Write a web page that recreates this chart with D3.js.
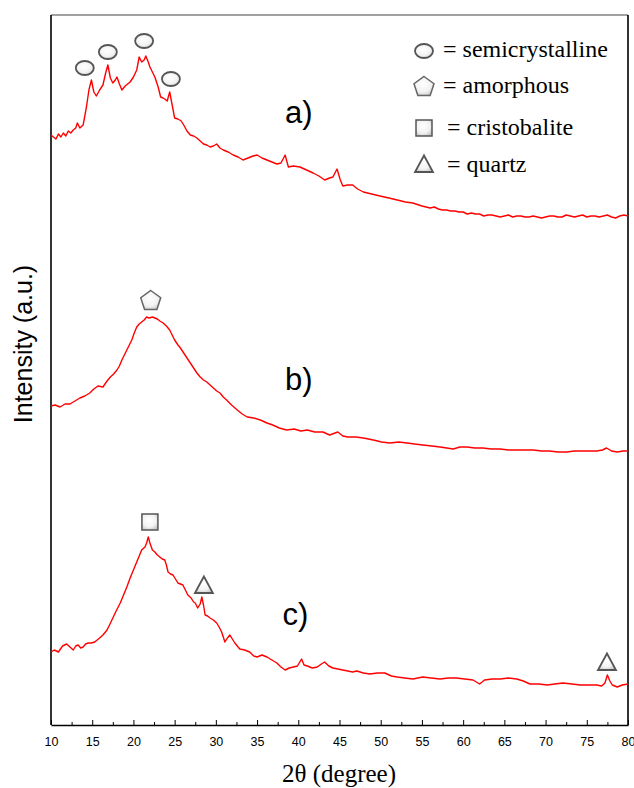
<!DOCTYPE html>
<html><head><meta charset="utf-8">
<script src="https://cdn.jsdelivr.net/npm/d3@7"></script>
<style>body{margin:0;background:#fff}svg{display:block}</style>
</head><body>
<svg id="chart" width="634" height="788"></svg>
<script>
// ---- data (2θ in degrees, intensity in a.u., curves stacked) ----
const xA = [10.0,10.3,10.6,10.9,11.2,11.5,11.8,12.1,12.4,12.7,13.0,13.2,13.5,13.9,14.3,14.6,14.9,15.2,15.5,15.9,16.3,16.6,16.9,17.2,17.5,17.8,18.0,18.3,18.6,19.0,19.3,19.6,20.0,20.4,20.7,21.0,21.3,21.5,21.8,22.0,22.3,22.6,23.0,23.3,23.6,23.8,24.1,24.4,24.7,25.0,25.4,25.8,26.1,26.5,26.9,27.3,27.7,28.1,28.5,28.9,29.3,29.7,30.1,30.5,30.9,31.5,32.1,32.7,33.3,33.9,34.5,35.0,35.6,36.2,36.8,37.4,37.9,38.4,38.8,39.4,40.2,41.0,41.8,42.5,43.2,43.8,44.2,44.7,45.1,45.4,46.0,46.6,47.2,47.9,48.9,49.9,51.0,52.0,53.0,53.9,55.0,55.5,56.0,56.5,57.0,57.5,58.0,58.5,59.0,59.5,60.0,60.5,61.0,61.5,62.0,62.5,63.0,63.5,64.0,64.5,65.0,65.5,66.0,66.5,67.0,67.5,68.0,68.5,69.0,69.5,70.0,70.5,71.0,71.5,72.0,72.5,73.0,73.5,74.0,74.5,75.0,75.5,76.0,76.5,77.0,77.5,78.0,78.5,79.0,79.5,80.0];
const yA = [590,588,586,591,588,592,589,594,592,595,597,602,597,600,618,635,645,633,629,635,640,651,660,647,642,645,648,641,635,639,641,643,648,655,668,663,665,669,663,658,653,648,638,628,627,626,624,633,620,607,606,604,600,594,590,589,587,584,581,580,578,579,581,577,575,573,570,568,565,567,569,570,567,565,563,561,562,570,558,559,558,555,552,549,545,547,548,556,545,539,540,540,536,533,531,529,527,525,523,522,519,518,517,518,516,515,515,514,514,513,513,511,512,511,511,509,510,510,509,508,509,510,508,509,509,508,508,509,508,507,508,509,509,508,508,510,509,508,509,510,508,509,509,508,509,510,508,507,509,510,509];

const xB = [10.0,10.5,11.1,11.7,12.3,12.9,13.5,14.1,14.7,15.2,15.7,16.3,16.8,17.2,17.6,18.0,18.3,18.6,18.9,19.2,19.5,19.8,20.1,20.4,20.7,21.0,21.3,21.6,21.9,22.3,22.6,22.9,23.2,23.6,24.0,24.4,24.7,25.0,25.4,25.7,26.1,26.5,26.9,27.3,27.7,28.1,28.5,28.9,29.3,29.7,30.1,30.5,30.9,31.3,31.9,32.6,33.2,33.8,34.6,35.4,36.2,36.9,37.7,38.6,39.5,40.3,41.1,42.0,43.0,43.8,44.8,45.4,46.0,47.0,47.9,48.5,49.1,50.1,51.1,52.2,53.2,54.1,55.1,56.2,57.2,58.0,58.8,59.6,60.5,61.4,62.4,63.4,64.5,65.5,66.5,67.5,68.5,69.5,70.5,71.5,72.6,73.5,74.5,75.3,76.2,76.9,77.4,78.0,78.7,79.4,80.0];
const yB = [319,320,318,321,321,324,327,329,332,336,339,338,344,348,351,355,359,365,370,375,380,385,392,398,401,403,405,408,407,408,407,406,404,402,399,395,390,385,380,377,372,367,362,357,352,348,345,343,340,337,334,332,328,325,320,315,311,308,307,305,302,300,297,295,296,294,295,293,293,290,293,289,288,288,287,286,285,283,282,283,282,281,280,279,278,277,276,278,278,277,277,276,276,275,275,275,275,274,274,273,273,274,274,274,274,275,277,274,273,274,274];

const xC = [10.0,10.4,10.9,11.4,11.9,12.3,12.7,13.0,13.3,13.6,13.9,14.2,14.5,14.9,15.3,15.6,15.9,16.3,16.8,17.1,17.5,17.9,18.4,18.8,19.2,19.6,20.0,20.3,20.6,21.0,21.4,21.6,21.8,22.0,22.3,22.6,22.9,23.2,23.5,23.8,24.0,24.2,24.5,24.8,25.1,25.4,25.7,26.0,26.3,26.6,27.0,27.3,27.5,27.8,28.1,28.3,28.5,28.7,29.0,29.3,29.7,30.1,30.4,30.7,31.1,31.4,31.7,32.0,32.3,32.9,33.5,34.1,34.6,35.0,35.6,36.2,36.8,37.4,37.9,38.4,38.9,39.4,39.9,40.4,40.7,41.1,41.7,42.3,42.8,43.2,43.7,44.2,44.8,45.4,46.0,46.6,47.1,47.9,48.7,49.6,50.5,51.3,52.0,52.9,53.9,54.5,55.1,56.1,57.2,58.2,59.2,60.2,61.2,62.0,62.6,63.5,64.5,65.5,66.5,67.3,68.1,69.2,70.2,71.1,72.1,73.2,74.2,75.2,76.2,76.8,77.2,77.5,77.8,78.1,78.7,79.3,80.0];
const yC = [73,75,73,79,81,78,75,79,80,77,78,81,82,82,83,85,87,90,95,100,107,114,122,130,138,147,155,161,167,175,178,182,188,182,175,173,170,168,166,165,160,153,151,150,146,142,141,140,135,130,127,123,122,117,121,128,120,110,109,107,105,102,98,93,83,87,90,86,82,76,75,73,69,68,70,68,65,62,58,55,57,58,59,66,60,59,57,58,61,63,59,57,56,55,54,53,54,52,51,52,52,49,48,47,46,47,48,47,46,47,47,46,45,41,45,46,46,47,46,44,41,41,40,41,42,41,40,40,40,39,42,50,44,40,38,40,41];

const curveLabels = ["a)", "b)", "c)"];
const curveLabelPos = [[38.4, 602], [38.4, 335], [38.1, 100]];

const xTicks = [10,15,20,25,30,35,40,45,50,55,60,65,70,75,80];
const xMinorTicks = [12.5,17.5,22.5,27.5,32.5,37.5,42.5,47.5,52.5,57.5,62.5,67.5,72.5,77.5];

// phase markers: [2θ, intensity, type]
const markerX = [14.1, 16.9, 21.3, 24.55, 22.1, 22.0, 28.55, 77.45];
const markerY = [657, 673, 684, 646, 425, 203, 140, 63];
const markerType = ["circle","circle","circle","circle","pentagon","square","triangle","triangle"];

const legendTypes = ["circle","pentagon","square","triangle"];
const legendNames = ["= semicrystalline","= amorphous","= cristobalite","= quartz"];

// ---- drawing ----
const svg = d3.select("#chart");
const x = d3.scaleLinear().domain([10, 80]).range([51, 628]);
const y = d3.scaleLinear().domain([0, 710]).range([725, 15]);

const defs = svg.append("defs");
const rg = defs.append("radialGradient").attr("id","gfill").attr("cx","45%").attr("cy","40%").attr("r","65%");
rg.append("stop").attr("offset","0%").attr("stop-color","#ffffff");
rg.append("stop").attr("offset","65%").attr("stop-color","#f2f2f2");
rg.append("stop").attr("offset","100%").attr("stop-color","#c8c8c8");

// frame
svg.append("line").attr("x1",51).attr("x2",628).attr("y1",15).attr("y2",15).attr("stroke","#444").attr("stroke-width",1);
svg.append("line").attr("x1",51).attr("x2",51).attr("y1",15).attr("y2",725).attr("stroke","#000").attr("stroke-width",1.6);
svg.append("line").attr("x1",628).attr("x2",628).attr("y1",15).attr("y2",725).attr("stroke","#000").attr("stroke-width",1.6);

// bottom axis
const gx = svg.append("g").attr("transform","translate(0,725)")
  .call(d3.axisBottom(x).tickValues(xTicks).tickFormat(d3.format("d")).tickSizeInner(-5).tickSizeOuter(0).tickPadding(12));
gx.select(".domain").attr("stroke","#000").attr("stroke-width",1.6);
gx.selectAll(".tick line").attr("stroke","#000").attr("stroke-width",1);
gx.selectAll("text").attr("font-family","'Liberation Sans Narrow','Arial Narrow','Liberation Sans',Arial,sans-serif")
  .attr("font-size",12.5).attr("fill","#000");
const gm = svg.append("g").attr("transform","translate(0,725)")
  .call(d3.axisBottom(x).tickValues(xMinorTicks).tickFormat("").tickSizeInner(-3).tickSizeOuter(0));
gm.select(".domain").remove();
gm.selectAll(".tick line").attr("stroke","#000").attr("stroke-width",1);

// curves
const line = d3.line().x(d => x(d[0])).y(d => y(d[1]));
[[xA,yA],[xB,yB],[xC,yC]].forEach(([xs, ys]) => {
  svg.append("path").datum(xs.map((v,i) => [v, ys[i]]))
    .attr("d", line).attr("fill","none").attr("stroke","#ff0000").attr("stroke-width",1.4)
    .attr("stroke-linejoin","round");
});

// curve labels
curveLabels.forEach((t,i) => {
  svg.append("text").attr("x", x(curveLabelPos[i][0])).attr("y", y(curveLabelPos[i][1]))
    .attr("font-family","'Liberation Sans',Arial,sans-serif").attr("font-size",31).attr("fill","#000").text(t);
});

// symbol drawer
function drawSymbol(g, type, cx, cy) {
  const stroke = "#555";
  if (type === "circle") {
    g.append("ellipse").attr("cx",cx).attr("cy",cy).attr("rx",9).attr("ry",7)
      .attr("fill","url(#gfill)").attr("stroke",stroke).attr("stroke-width",1.8);
  } else if (type === "pentagon") {
    const r = 10.5;
    const pts = d3.range(5).map(k => {
      const a = -Math.PI/2 + k*2*Math.PI/5;
      return [cx + r*Math.cos(a), cy + 1 + r*Math.sin(a)];
    });
    g.append("polygon").attr("points", pts.map(p=>p.join(",")).join(" "))
      .attr("fill","url(#gfill)").attr("stroke","#666").attr("stroke-width",1.5);
  } else if (type === "square") {
    g.append("rect").attr("x",cx-8).attr("y",cy-8).attr("width",16).attr("height",16)
      .attr("fill","url(#gfill)").attr("stroke",stroke).attr("stroke-width",1.5);
  } else if (type === "triangle") {
    const pts = [[cx, cy-8.5],[cx+9, cy+8],[cx-9, cy+8]];
    g.append("polygon").attr("points", pts.map(p=>p.join(",")).join(" "))
      .attr("fill","url(#gfill)").attr("stroke",stroke).attr("stroke-width",1.8).attr("stroke-linejoin","miter");
  }
}

const gMarks = svg.append("g");
markerX.forEach((v,i) => drawSymbol(gMarks, markerType[i], x(v), y(markerY[i])));

// legend
const legY = [51, 86, 128, 164];
const legBase = [57, 93, 135, 172];
const legTextX = [443, 443, 447, 447];
const gL = svg.append("g");
legendTypes.forEach((t,i) => {
  drawSymbol(gL, t, 424, legY[i]);
  gL.append("text").attr("x", legTextX[i]).attr("y", legBase[i])
    .attr("font-family","'Liberation Serif','Times New Roman',serif").attr("font-size",24).attr("fill","#000")
    .text(legendNames[i]);
});

// axis titles
svg.append("text").attr("x", 339).attr("y", 782).attr("text-anchor","middle")
  .attr("font-family","'Liberation Serif','Times New Roman',serif").attr("font-size",25).attr("fill","#000")
  .text("2θ (degree)");
svg.append("text").attr("transform","translate(32,344) rotate(-90)").attr("text-anchor","middle")
  .attr("font-family","'Liberation Sans',Arial,sans-serif").attr("font-size",25).attr("fill","#000")
  .text("Intensity (a.u.)");
</script>
</body></html>
